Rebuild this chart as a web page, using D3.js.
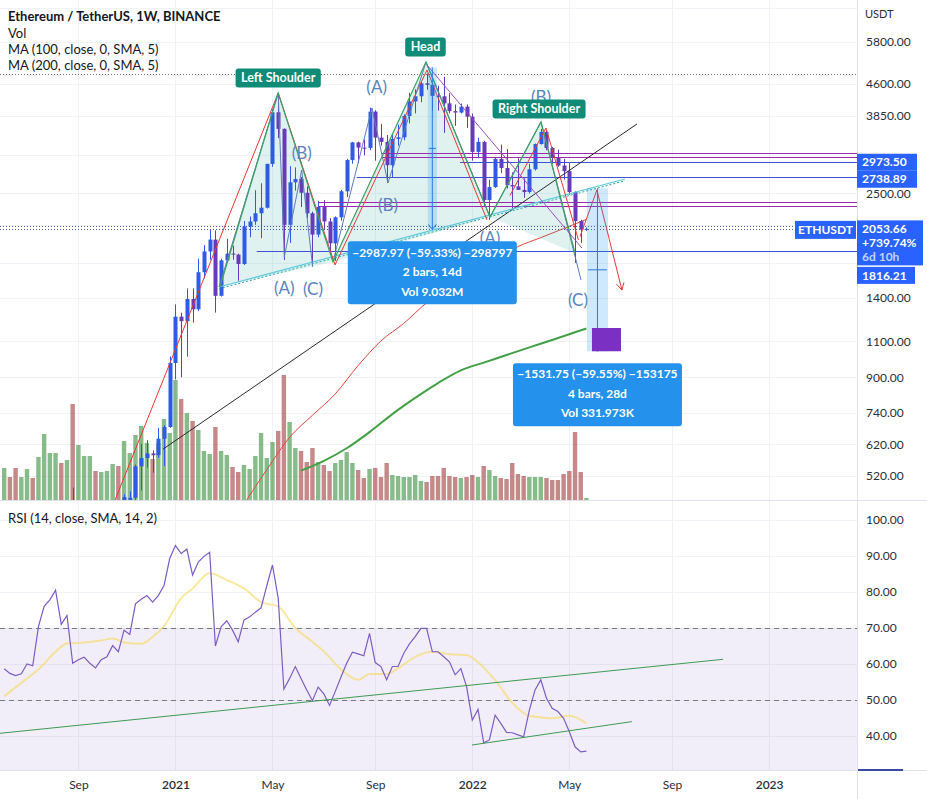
<!DOCTYPE html>
<html>
<head>
<meta charset="utf-8">
<script src="https://cdn.jsdelivr.net/npm/d3@7/dist/d3.min.js"></script>
<style>
html,body{margin:0;padding:0;background:#fff;}
svg{display:block;font-family:Lato,"Noto Sans",sans-serif;}
</style>
</head>
<body>
<svg id="chart" width="927" height="799"></svg>
<script>
// ---------------- DATA ----------------
const firstWeek = "2020-06-08"; // weekly bars (Binance weeks start Monday)
const opens  = [232,244,228,225,241,242,233,311,385,395, 428,387,428,335,365,350,356,352,366,368, 406,396,455,461,549,575,590,584,640,683, 975,1261,1230,1391,1314,1614,1812,1935,1416,1724, 1790,1780,1690,2080,2140,2240,2310,2946,3925,3580, 2100,2660,2710,2510,2240,1990,2320,2140,1895,2190, 2530,3010,3320,3225,3220,3940,3410,3330,2925,3385, 3415,3845,4170,4290,4610,4570,4300,4290,4125,3950, 3920,4050,3830,3150,3330,2410,2590,3030,2880,2620, 2600,2550,2520,2860,3290,3520,3220,3060,2920,2830, 2520,2145,2045];
const highs  = [250,246,236,245,250,245,325,415,400,445, 440,440,488,377,395,372,375,378,395,420, 418,470,478,555,622,635,600,680,690,1011, 1350,1289,1475,1476,1740,1877,2042,2036,1740,1943, 1870,1790,2145,2200,2545,2645,2950,4000,4372,3590, 2910,2890,2740,2600,2260,2400,2410,2180,2200,2550, 3030,3330,3335,3375,4027,3970,3680,3460,3490,3665, 3880,4375,4460,4665,4868,4580,4550,4780,4365,4100, 4120,4100,3900,3410,3350,2700,3060,3280,3200,2810, 3040,2720,2950,3300,3580,3550,3240,3190,3030,2960, 2530,2160,2070];
const lows   = [228,222,216,222,236,230,232,307,365,374, 383,375,310,330,335,308,335,334,360,360, 370,373,430,440,480,545,530,576,550,680, 890,900,1010,1220,1300,1560,1730,1290,1410,1720, 1730,1540,1680,1960,2100,1950,2300,2900,3400,1728, 1900,2540,2320,2180,1700,1960,2040,1780,1718,2150, 2450,2950,2960,3090,3180,3000,3260,2650,2740,3260, 3360,3690,3900,4150,4450,3960,3960,3500,3900,3640, 3900,3600,3000,3040,2330,2160,2580,2800,2570,2300, 2550,2440,2500,2840,3280,3180,2950,2900,2700,2480, 1700,1900,2030];
const closes = [244,228,225,241,242,233,311,385,395,428, 387,428,335,365,368,356,352,366,368,406, 396,463,461,549,575,590,584,640,683,975, 1261,1230,1391,1314,1614,1812,1935,1416,1724,1790, 1780,1690,2080,2140,2240,2310,2946,3925,3580,2100, 2660,2710,2510,2240,1990,2320,2140,1895,2190,2530, 3010,3320,3225,3220,3940,3410,3330,2925,3385,3415, 3845,4170,4290,4610,4570,4300,4290,4125,3950,3920, 4050,3830,3150,3330,2410,2590,3030,2880,2620,2600, 2550,2520,2860,3290,3520,3220,3060,2920,2830,2520, 2145,2045,2053.66];
const volumes = [2.56,1.84,2.56,1.84,2.48,1.76,3.44,5.28,3.76,3.76, 2.96,3.2,7.68,4.4,3.52,3.52,2.32,2.24,2.32,2.88, 2.72,4.72,3.76,5.2,5.92,4.56,3.28,4.56,6.48,5.36, 9.6,8.08,6.96,6.32,5.6,3.92,3.68,5.84,3.92,3.6, 2.64,2.24,2.8,2.48,3.52,5.36,3.36,4.64,5.52,10.0, 6.24,4.16,3.92,3.04,4.16,3.04,2.8,2.32,2.96,3.2, 3.84,2.96,2.4,1.76,2.48,2.56,1.84,2.96,2.0,1.92, 1.84,1.84,2.0,1.52,1.44,1.92,1.92,2.56,1.92,1.84, 1.76,1.84,2.0,1.84,2.72,2.4,1.92,1.76,1.68,2.96, 2.08,1.92,1.84,1.84,1.84,1.76,1.6,1.6,2.08,2.32, 5.44,2.24,0.16]; // millions
const rsiValues = [58.7,57.4,56.8,57.3,60,59.5,70.4,76,77.8,80.5, 71,73.5,60.2,61.2,61.9,60.2,58.9,61.2,62,65.1, 63.4,69.4,68.2,76.7,78,79,77.2,79,81.8,89.3, 92.9,90.7,91.9,84.7,88.3,89.9,91,65,70.3,72, 69.4,66.2,72.2,73.1,74.4,75.6,81.7,87.5,78.3,53, 56,59.3,56,52.8,49.8,53.6,51.7,48.5,52.4,56.4, 60.2,63.3,62.8,62.3,68.5,60.4,59.3,55.6,59.3,59.3, 63,65.6,67.6,69.9,69.9,63.4,63.4,62,60.6,57, 58.7,53.7,44.4,47.4,38.1,38.9,45.8,43.5,41,40.9, 40.3,39.8,47.2,52.8,55.6,50.5,47.7,46.8,44.9,41.2, 37,35.6,35.8];
const rsiMaIdx = [0,2,4,6,9,11,13,17,19,21,24,26,28,31,33,36,39,42,45,48,51,54,56,59,62,64,67,69,72,75,78,81,83,86,89,92,94,96,99,102];
const rsiMaVal = [51,53.5,56,58.5,63.4,65.7,65.8,66.5,67.1,66,65.6,67.5,70.5,78.3,81,85.2,83.3,81,77.2,76,70,66.2,63.5,58.5,55.6,57.2,57.2,58.8,62,63.4,62.7,62.5,60.5,55.5,49.2,45.6,45.2,44.9,45.6,43.5];
const ma100Idx = [42,46,50,54,58,62,66,70,74,78,82,86,90,94,98,102];
const ma100Val = [445,539,645,729,821,961,1102,1215,1361,1471,1593,1724,1861,1956,2057,2165];
const ma200Idx = [52,56,60,64,68,72,76,80,84,88,92,96,100,102];
const ma200Val = [536,566,607,664,734,803,872,936,977,1019,1063,1108,1156,1181];

const priceGridTicks = [7000,5800,4600,3850,3100,2500,2100,1700,1400,1100,900,740,620,520];
const priceLabelTicks = [5800,4600,3850,2500,1400,1100,900,740,620,520]; // others sit under the price tags
const rsiTicks = [100,90,80,70,60,50,40];
const xTickDates = ["2020-09-07","2021-01-04","2021-05-03","2021-09-06","2022-01-03","2022-05-02","2022-09-05","2023-01-02"];
const xTickLabels = ["Sep","2021","May","Sep","2022","May","Sep","2023"];

// drawings: points are [bar index, price]
const hsOutline = [[37.8,1487],[48.0,4369],[57.6,1709],[73.89,5190],[85.11,2194],[94.04,3719],[100.0,1795]];
const hsTriangles = [
  [[37.63,1487],[48.0,4369],[57.6,1709]],
  [[57.6,1709],[73.89,5190],[85.11,2194]],
  [[85.11,2194],[94.04,3719],[100.0,1795]]
];
const redZigzagA = [[19.41,455],[48.0,4369],[57.95,1681],[74.06,4964],[84.58,2158]];
const redZigzagB = [[88.6,2470],[94.91,3597],[100.6,1931]];
const waveLegsL = [[37.63,1487],[48.0,4369],[49.07,1757],[52.12,2848],[54.04,1662]];
const waveLegsH = [[57.6,1709],[64.43,4020],[67.23,2650],[73.89,5190],[85.11,2194]];
const waveLegsR = [[85.11,2194],[94.04,3719],[101.05,1546]];
const necklineLine = [[37.63,1487],[108.75,2710]];
const blackTrend = [[27.82,604],[110.85,3678]];
const headDiagonal = [[74.06,5105],[101.22,1846]];
const redArrow = [[100.87,1967],[103.84,2549],[108.22,1462]];
const levelStart = [66.13,66.13,79.85,61.75,55.02,55.02,44.23];
const levelPrice = [3135,3057,2973.5,2738.89,2389,2326,1816.21];
const levelKind  = ["p","p","b","b","p","p","b"];
const dottedPrices = [4868,2085,2053.66];
const waveText = ["(A)","(B)","(C)","(A)","(B)","(A)","(B)","(C)"];
const waveAt = [[49.07,1479],[52.12,3130],[54.09,1470],[65.25,4517],[67.23,2345],[85.11,1952],[94.04,4273],[100.51,1383]];
const tagText = ["Left Shoulder","Head","Right Shoulder"];
const tagAt = [[48.0,4749],[73.8,5641],[93.7,3998]];
const measureFrom = [74.2,102.09];
const measureTo = [75.8,105.77];
const measureTop = [5036.2,2572.2];
const measureBottom = [2048.2,1040.5];
const measureText = [
  ["\u22122987.97 (\u221259.33%) \u2212298797","2 bars, 14d","Vol 9.032M"],
  ["\u22121531.75 (\u221259.55%) \u2212153175","4 bars, 28d","Vol 331.973K"]
];
const targetBox = [[102.97,1184],[108.05,1040.5]];
const lastPrice = 2053.66, lastChange = "+739.74%", lastCountdown = "6d 10h";
const levelLabels = [2973.5,2738.89];
const lowLabel = 1816.21;
const rsiTrendA = [[-0.74,40.75],[125.92,61.3]];
const rsiTrendB = [[81.95,37.5],[109.97,44]];

// ---------------- SCALES ----------------
const svg = d3.select("#chart");
const PR = 857, MB = 500, RT = 501, RB = 770;
const start = d3.utcParse("%Y-%m-%d")(firstWeek);
const dateOf = i => new Date(start.getTime() + i * 7 * 864e5);
const x = d3.scaleUtc().domain([new Date(Date.UTC(2020,8,1)), new Date(Date.UTC(2023,0,1))]).range([73.5, 768.3]);
const xi = i => x(dateOf(i));
const y = d3.scaleLog().domain([455.4, 7324]).range([500, 0]);
const yv = d3.scaleLinear().domain([0, 10]).range([500, 375]);
const yr = d3.scaleLinear().domain([30, 100]).range([772, 520]);
const lineP = d3.line().x(d => xi(d[0])).y(d => y(d[1]));

const defs = svg.append("defs");
defs.append("clipPath").attr("id","cm").append("rect").attr("x",0).attr("y",0).attr("width",PR).attr("height",MB);
defs.append("clipPath").attr("id","cr").append("rect").attr("x",0).attr("y",RT).attr("width",PR).attr("height",RB-RT);

// ---------------- GRID ----------------
const grid = svg.append("g").attr("stroke","#f0f2f7").attr("stroke-width",1);
const tickDates = xTickDates.map(d3.utcParse("%Y-%m-%d"));
tickDates.forEach(d => grid.append("line").attr("x1",Math.round(x(d))+0.5).attr("x2",Math.round(x(d))+0.5).attr("y1",0).attr("y2",RB));
priceGridTicks.forEach(p => grid.append("line").attr("x1",0).attr("x2",PR).attr("y1",Math.round(y(p))+0.5).attr("y2",Math.round(y(p))+0.5));
rsiTicks.forEach(v => grid.append("line").attr("x1",0).attr("x2",PR).attr("y1",Math.round(yr(v))+0.5).attr("y2",Math.round(yr(v))+0.5));

// ---------------- MAIN PANE ----------------
const main = svg.append("g").attr("clip-path","url(#cm)");
const idx = d3.range(opens.length);
const up = i => closes[i] >= opens[i];

main.append("g").selectAll("rect").data(idx).join("rect")
  .attr("x", i => xi(i) - 2.2).attr("width", 4.4)
  .attr("y", i => yv(volumes[i])).attr("height", i => MB - yv(volumes[i]))
  .attr("fill", i => up(i) ? "rgba(56,142,60,0.6)" : "rgba(150,40,40,0.55)");

const lineIdx = d3.line().x(d => xi(d[0])).y(d => y(d[1])).curve(d3.curveMonotoneX);
main.append("path").attr("d", lineIdx(ma100Idx.map((k,j)=>[k,ma100Val[j]]))).attr("fill","none").attr("stroke","#e2463f").attr("stroke-width",1);
main.append("path").attr("d", lineIdx(ma200Idx.map((k,j)=>[k,ma200Val[j]]))).attr("fill","none").attr("stroke","#43a047").attr("stroke-width",2);

// pattern fills
main.append("g").selectAll("path").data(hsTriangles).join("path")
  .attr("d", d => lineP(d) + "Z").attr("fill","rgba(38,166,154,0.15)");

// candles
const cg = main.append("g");
cg.selectAll("line").data(idx).join("line")
  .attr("x1", i => Math.round(xi(i))+0.5).attr("x2", i => Math.round(xi(i))+0.5)
  .attr("y1", i => y(highs[i])).attr("y2", i => y(lows[i]))
  .attr("stroke", i => up(i) ? "#2f5ae6" : "#673ab7");
cg.selectAll("rect").data(idx).join("rect")
  .attr("x", i => Math.round(xi(i)) - 1.5).attr("width", 4)
  .attr("y", i => Math.min(y(opens[i]), y(closes[i])))
  .attr("height", i => Math.max(1, Math.abs(y(opens[i]) - y(closes[i]))))
  .attr("fill", i => up(i) ? "#2f5ae6" : "#673ab7");

// horizontal dotted lines
dottedPrices.forEach((p,k) => main.append("line").attr("x1",0).attr("x2",PR)
  .attr("y1",Math.round(y(p))+0.5).attr("y2",Math.round(y(p))+0.5)
  .attr("stroke", k === 0 ? "#6a6d78" : "#4b5b8f").attr("stroke-dasharray","1,2"));

// level lines
levelPrice.forEach((p,k) => main.append("line").attr("x1",xi(levelStart[k])).attr("x2",PR)
  .attr("y1",Math.round(y(p))+0.5).attr("y2",Math.round(y(p))+0.5)
  .attr("stroke", levelKind[k] === "p" ? "#9c27b0" : "#3f51d4").attr("stroke-width",1));

function poly(pts, color, w, dash){
  const p = main.append("path").attr("d", lineP(pts)).attr("fill","none").attr("stroke",color).attr("stroke-width",w||1);
  if (dash) p.attr("stroke-dasharray", dash);
  return p;
}
poly(blackTrend, "#2a2a2a", 1);
poly(necklineLine, "#5cc8dc", 1.2);
poly(necklineLine.map(d => [d[0], d[1]*0.99]), "#26a69a", 1, "2,2");
poly(redZigzagA, "#e53935", 1);
poly(redZigzagB, "#e53935", 1);
poly(waveLegsL, "#5c7cba", 1);
poly(waveLegsH, "#5c7cba", 1);
poly(waveLegsR, "#5c7cba", 1);
poly(hsOutline, "#3f9f62", 1.2);
poly(headDiagonal, "#9b4dca", 1);
poly(redArrow, "#e53935", 1);
{ // arrowhead for red arrow
  const a = redArrow[redArrow.length-2], b = redArrow[redArrow.length-1];
  const ax = xi(a[0]), ay = y(a[1]), bx = xi(b[0]), by = y(b[1]);
  const ang = Math.atan2(by-ay, bx-ax), L = 8;
  const p1 = [bx - L*Math.cos(ang - 0.5), by - L*Math.sin(ang - 0.5)];
  const p2 = [bx - L*Math.cos(ang + 0.5), by - L*Math.sin(ang + 0.5)];
  main.append("path").attr("d",`M${p1}L${bx},${by}L${p2}`).attr("fill","none").attr("stroke","#e53935");
}

// measurements
measureFrom.forEach((f,k) => {
  const x0 = xi(f), x1 = xi(measureTo[k]), cx = (x0+x1)/2;
  const yt = y(measureTop[k]), yb = y(measureBottom[k]);
  main.append("rect").attr("x",x0).attr("width",x1-x0).attr("y",yt).attr("height",yb-yt).attr("fill","rgba(33,150,243,0.22)");
  main.append("line").attr("x1",cx).attr("x2",cx).attr("y1",yt).attr("y2",yb).attr("stroke","#2a7be4");
  main.append("path").attr("d",`M${cx-4},${yb-5}L${cx},${yb}L${cx+4},${yb-5}`).attr("fill","none").attr("stroke","#2a7be4");
  const ym = (yt+yb)/2;
  main.append("line").attr("x1",x0+1).attr("x2",x1-1).attr("y1",ym).attr("y2",ym).attr("stroke","#2a7be4");
});
main.append("rect")
  .attr("x", xi(targetBox[0][0])).attr("width", xi(targetBox[1][0]) - xi(targetBox[0][0]))
  .attr("y", y(targetBox[0][1])).attr("height", y(targetBox[1][1]) - y(targetBox[0][1]))
  .attr("fill","#7b30c4");

// wave labels
waveText.forEach((t,k) => main.append("text").attr("x",xi(waveAt[k][0])).attr("y",y(waveAt[k][1]))
  .attr("dy","0.35em").attr("text-anchor","middle").attr("font-size",17).attr("fill","#5a84bb").text(t));

// tags
tagText.forEach((t,k) => {
  const cx = xi(tagAt[k][0]), cy = y(tagAt[k][1]);
  const g = main.append("g");
  const r = g.append("rect").attr("fill","#0f8b78").attr("rx",3);
  const tx = g.append("text").attr("x",cx).attr("y",cy).attr("dy","0.35em").attr("text-anchor","middle")
    .attr("font-size",12.5).attr("font-weight",700).attr("fill","#fff").text(t);
  const w = tx.node().getComputedTextLength() + 11;
  r.attr("x",cx - w/2).attr("y",cy - 9.5).attr("width",w).attr("height",19);
});

// measurement info boxes
measureFrom.forEach((f,k) => {
  const cx = (xi(f) + xi(measureTo[k]))/2, top = y(measureBottom[k]) + 12;
  const g = main.append("g");
  g.append("rect").attr("x",cx-84.5).attr("y",top).attr("width",169).attr("height",63).attr("rx",3).attr("fill","#2492ec");
  measureText[k].forEach((t,j) => g.append("text").attr("x",cx).attr("y",top + 11 + j*19.5).attr("dy","0.35em")
    .attr("text-anchor","middle").attr("font-size",12).attr("font-weight",700).attr("fill","#fff").text(t));
});

// ---------------- RSI PANE ----------------
const rp = svg.append("g").attr("clip-path","url(#cr)");
rp.append("rect").attr("x",0).attr("width",PR).attr("y",yr(70)).attr("height",yr(30)-yr(70)).attr("fill","rgba(126,87,194,0.1)");
[70,50,30].forEach(v => rp.append("line").attr("x1",0).attr("x2",PR).attr("y1",Math.round(yr(v))+0.5).attr("y2",Math.round(yr(v))+0.5)
  .attr("stroke","#787b86").attr("stroke-dasharray","5,4"));
rp.append("path").attr("d", d3.line().x(d => xi(d[0])).y(d => yr(d[1])).curve(d3.curveMonotoneX)(rsiMaIdx.map((k,j)=>[k,rsiMaVal[j]])))
  .attr("fill","none").attr("stroke","rgba(245,215,80,0.55)").attr("stroke-width",2);
rp.append("path").attr("d", d3.line().x(d => xi(d[0])).y(d => yr(d[1]))(rsiValues.map((v,i)=>[i,v])))
  .attr("fill","none").attr("stroke","#7b5cc4").attr("stroke-width",1.2);
[rsiTrendA, rsiTrendB].forEach(t => rp.append("path").attr("d", d3.line().x(d => xi(d[0])).y(d => yr(d[1]))(t))
  .attr("fill","none").attr("stroke","#3e9a52").attr("stroke-width",1));

// ---------------- FRAME / AXES ----------------
svg.append("line").attr("x1",PR+0.5).attr("x2",PR+0.5).attr("y1",0).attr("y2",799).attr("stroke","#e0e3eb");
svg.append("line").attr("x1",0).attr("x2",927).attr("y1",MB+0.5).attr("y2",MB+0.5).attr("stroke","#e0e3eb");
svg.append("line").attr("x1",0).attr("x2",927).attr("y1",RB+0.5).attr("y2",RB+0.5).attr("stroke","#e0e3eb");

function styleAxis(g){ g.select(".domain").remove(); g.attr("font-family","Lato, sans-serif").attr("font-size",12); g.selectAll("text").attr("fill","#2a2e39"); }
svg.append("g").attr("transform",`translate(${PR},0)`)
  .call(d3.axisRight(y).tickValues(priceLabelTicks).tickFormat(d => d.toFixed(2)).tickSize(0).tickPadding(9)).call(styleAxis);
svg.append("g").attr("transform",`translate(${PR},0)`)
  .call(d3.axisRight(yr).tickValues(rsiTicks).tickFormat(d => d.toFixed(2)).tickSize(0).tickPadding(9)).call(styleAxis);
svg.append("g").attr("transform",`translate(0,${RB})`)
  .call(d3.axisBottom(x).tickValues(tickDates).tickFormat((d,i) => xTickLabels[i]).tickSize(0).tickPadding(10)).call(styleAxis)
  .selectAll("text").attr("font-weight",(d,i) => /^\d/.test(xTickLabels[i]) ? 600 : 400);

svg.append("text").attr("x",865).attr("y",14).attr("dy","0.35em").attr("font-size",11).attr("fill","#2a2e39").text("USDT");
svg.append("rect").attr("x",PR+1).attr("y",RB-1).attr("width",45).attr("height",2).attr("fill","#3949ab");

// right-side price labels
function priceBox(cy, lines, w){
  const g = svg.append("g");
  const h = 14 * lines.length + 3;
  g.append("rect").attr("x",PR).attr("y",cy-8.5).attr("width",w).attr("height",h).attr("fill","#2962ff");
  lines.forEach((t,j) => g.append("text").attr("x",PR+5).attr("y",cy + j*14).attr("dy","0.35em")
    .attr("font-size",12).attr("font-weight",700).attr("fill", j === 2 ? "rgba(255,255,255,0.72)" : "#fff").text(t));
  return cy - 8.5 + h;
}
let bottom = priceBox(y(levelLabels[0]), [levelLabels[0].toFixed(2)], 60);
priceBox(Math.max(y(levelLabels[1]), bottom + 8.5), [levelLabels[1].toFixed(2)], 60);
const lp = y(lastPrice);
bottom = priceBox(lp, [lastPrice.toFixed(2), lastChange, lastCountdown], 66);
priceBox(Math.max(y(lowLabel), bottom + 10), [lowLabel.toFixed(2)], 58);
{
  const g = svg.append("g");
  g.append("rect").attr("x",795).attr("y",lp-8).attr("width",61).attr("height",18).attr("fill","#2962ff");
  g.append("text").attr("x",825.5).attr("y",lp+1).attr("dy","0.35em").attr("text-anchor","middle")
    .attr("font-size",12).attr("font-weight",700).attr("fill","#fff").text("ETHUSDT");
}

// legends
const lg = svg.append("g").attr("font-size",13).attr("fill","#131722");
lg.append("text").attr("x",8).attr("y",21).attr("font-weight",700).text("Ethereum / TetherUS, 1W, BINANCE");
lg.append("text").attr("x",8).attr("y",38).text("Vol");
lg.append("text").attr("x",8).attr("y",54).text("MA (100, close, 0, SMA, 5)");
lg.append("text").attr("x",8).attr("y",70).text("MA (200, close, 0, SMA, 5)");
lg.append("text").attr("x",8).attr("y",523).text("RSI (14, close, SMA, 14, 2)");
</script>
</body>
</html>
